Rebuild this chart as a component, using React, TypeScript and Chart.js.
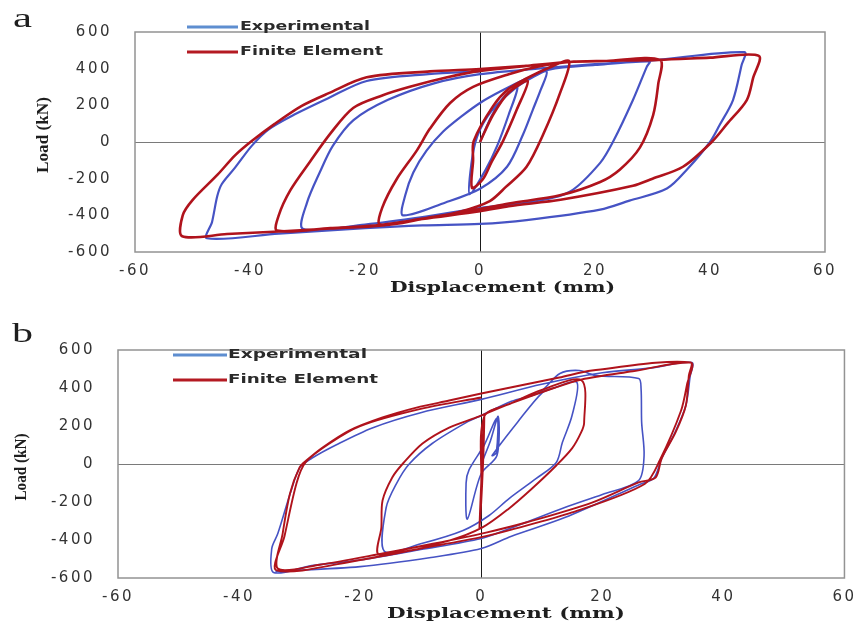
import React, { useEffect, useRef } from 'react';
import { Chart, registerables } from 'chart.js';

Chart.register(...registerables);

// ---------- text ----------
const seriesNames = ['Experimental', 'Finite Element'];
const panelLetters = ['a', 'b'];
const xTitle = 'Displacement (mm)';
const yTitle = 'Load (kN)';
const xTickValues = [-60, -40, -20, 0, 20, 40, 60];
const yTickValues = [-600, -400, -200, 0, 200, 400, 600];

// ---------- panel a : experimental ----------
const aExpX = [0, 2, 4, 6.5, 5, 3, 1, -1.8, -1.5, -0.5, 2, 6, 9, 11.6,
  10.5, 9.2, 7.5, 4.7, 0, -6, -13.4, -13, -11.6, -9.3, -6.4, -3, 0, 3.5, 8, 12, 20, 29.5,
  29, 26.6, 23.2, 20.9, 15.7, 9.9, 0, -10, -20, -30.8, -30.1, -27.8, -25.6, -22, -16, -8, 0, 10, 20, 30, 46,
  45.5, 44, 41.7, 40, 36, 32.5, 26, 20.9, 8.1, 0, -10, -20, -35, -47.5, -46.6, -45.7, -44.9, -42.6, -39.7, -36.8, -32.2, -26.4, -19.7, -9, 0];
const aExpY = [0, 140, 240, 300, 150, -20, -150, -285, -120, 30, 170, 290, 350, 384,
  280, 177, 42, -135, -255, -330, -400, -291, -166, -47, 57, 145, 213, 275, 345, 395, 420, 440,
  410, 229, 5, -114, -270, -322, -360, -410, -450, -473, -332, -161, -21, 119, 230, 320, 370, 400, 425, 445, 490,
  420, 229, 94, 0, -150, -254, -320, -369, -426, -447, -455, -470, -500, -525, -436, -296, -229, -140, -21, 68, 151, 239, 333, 370, 385];

// ---------- panel a : finite element ----------
const aFeX = [0, 2.3, 5, 8.3, 6.4, 4, 2, 0.5, -1.4, -1.2, -1.1, 2.3, 5, 8, 12, 15.5,
  13.9, 11, 8.1, 4.5, 1.7, -3.5, -10, -17.4, -17, -14.5, -11, -8.7, -5.2, -1.2, 5, 10, 15.5, 22, 31.3,
  31, 30.1, 27.8, 24.3, 20.9, 13.9, 5, 0, -8, -17, -26, -35.3, -35, -33, -29.6, -26, -22, -16.9, -12.2, -5.7, 0, 8, 16, 31, 40, 48.5,
  47.5, 46.4, 43, 40.3, 35.3, 30, 26.6, 14, 5, 0, -10, -17, -26, -35, -44, -51.8, -51.7, -50, -45.6, -42.6, -39.7, -35.7, -31, -26.4, -19.7, -8.7, 0, 10];
const aFeY = [0, 150, 270, 332, 177, 5, -110, -203, -250, -100, 5, 197, 290, 345, 405, 440,
  265, 42, -135, -245, -322, -380, -420, -450, -358, -203, -47, 73, 213, 301, 370, 410, 436, 442, 448,
  317, 145, -31, -151, -218, -291, -335, -365, -408, -452, -470, -483, -400, -264, -109, 47, 187, 255, 301, 353, 388, 415, 438, 448, 460, 470,
  350, 229, 100, 0, -135, -200, -239, -315, -350, -378, -420, -455, -472, -488, -502, -514, -400, -317, -177, -73, 5, 99, 197, 265, 353, 385, 398, 420];

// ---------- panel b : experimental ----------
const bExpX = [0, 1.5, 2.8, 2.6, 0, -2.3, -2.5, -2, 0.5, 2.6, 2.5, 1.8, 6, 10.1, 12, 15.8,
  15, 13.4, 12.4, 9.1, 4.6, 1.3, -3, -10, -16, -15.7, -14, -11.9, -8.1, -2.5, 0, 5, 9.6, 13, 16.2, 19, 26,
  26.4, 26.5, 26.9, 26, 20, 13.8, 5.5, 0, -10, -20, -28, -34.3, -34.6, -33.6, -31.5, -30, -28, -24, -18, -10, 0, 10, 20, 28, 34.8,
  34.5, 33.8, 32, 29.8, 28.5, 26, 13.8, 5, 0, -8.3, -20, -34];
const bExpY = [0, 120, 250, 45, -50, -290, -100, -30, 100, 240, 60, 45, 220, 376, 400, 430,
  255, 113, 8, -76, -182, -271, -350, -420, -460, -229, -103, 0, 108, 218, 255, 330, 376, 476, 492, 465, 450,
  398, 219, 45, -87, -160, -229, -330, -392, -450, -505, -535, -571, -445, -366, -150, -20, 30, 100, 190, 270, 340, 420, 480, 505, 534,
  460, 308, 166, 29, -75, -110, -282, -380, -445, -492, -540, -565];

// ---------- panel b : finite element ----------
const bFeX = [0, 0.5, 0.3, -0.3, 0, 0.5, 5, 10, 16.6,
  17, 16.5, 15, 12.4, 8.4, 4.6, 0.2, -5.3, -12, -17, -16.5, -16.3, -14.7, -13, -9.7, -5.3, -0.8, 5, 12, 16.6, 25, 34.6,
  34.3, 33.8, 32.1, 29.8, 28.8, 26, 18.3, 7.4, 0.8, -8, -16.3, -26.7, -33.6, -32.8, -31.6, -30, -28.9, -26.2, -21.8, -16.3, -10.7, -5.3, 0, 12.9, 18.3, 34.6,
  34, 33, 29.5, 27, 15, 5, 0, -10, -20, -33.8, -32.5, -30.5, -29, -25, -20, -10, 0];
const bFeY = [0, 260, 0, -340, -100, 250, 320, 390, 440,
  219, 166, 82, -8, -129, -234, -334, -403, -445, -475, -334, -192, -71, 0, 108, 192, 245, 320, 400, 445, 488, 534,
  466, 308, 166, 29, -71, -97, -203, -308, -361, -420, -471, -530, -550, -366, -156, -18, 18, 87, 176, 245, 297, 334, 371, 455, 492, 534,
  420, 280, 20, -105, -255, -345, -385, -445, -505, -560, -380, -100, 10, 110, 200, 290, 350];

const zip = (xs: number[], ys: number[]) => xs.map((x, i) => ({ x, y: ys[i] }));

const EXP_COLOR = '#4653c4';
const FE_COLOR = '#b0131c';
const EXP_LEGEND = '#5e8ed0';
const FE_LEGEND = '#b41a22';

type Layout = {
  w: number; h: number;
  area: { l: number; r: number; t: number; b: number };
  letter: { x0: number; x1: number; base: number };
  yT: { cx: number; cy: number; len: number };
  xT: { x0: number; x1: number; cy: number };
  leg: { x0: number; x1: number; tx: number; y1: number; y2: number; e1: number; e2: number };
  yPad: number; xPad: number;
  lw: [number, number];
};

const layoutA: Layout = {
  w: 864, h: 314,
  area: { l: 135, r: 825, t: 21, b: 252 },
  letter: { x0: 13, x1: 32, base: 27 },
  yT: { cx: 44, cy: 135, len: 76 },
  xT: { x0: 390, x1: 615, cy: 288 },
  leg: { x0: 187, x1: 238, tx: 240, y1: 27, y2: 52, e1: 370, e2: 383 },
  yPad: 23, xPad: 10,
  lw: [2.2, 2.6],
};

const layoutB: Layout = {
  w: 864, h: 314,
  area: { l: 118, r: 846, t: 36, b: 264 },
  letter: { x0: 12, x1: 33, base: 28 },
  yT: { cx: 22, cy: 153, len: 67 },
  xT: { x0: 387, x1: 625, cy: 300 },
  leg: { x0: 173, x1: 227, tx: 228, y1: 41, y2: 66, e1: 367, e2: 378 },
  yPad: 23, xPad: 10,
  lw: [1.6, 1.9],
};

function fitText(ctx: CanvasRenderingContext2D, text: string, x: number, y: number, width: number) {
  const m = ctx.measureText(text).width;
  ctx.save();
  ctx.translate(x, y);
  ctx.scale(width / m, 1);
  ctx.textAlign = 'left';
  ctx.fillText(text, 0, 0);
  ctx.restore();
}

function makeDecor(L: Layout, letter: string) {
  return {
    id: 'decor',
    beforeDraw(chart: any) {
      (chart.ctx as any).letterSpacing = '2.5px';
    },
    beforeDatasetsDraw(chart: any) {
      const ctx = chart.ctx as CanvasRenderingContext2D;
      (ctx as any).letterSpacing = '0px';
      const a = chart.chartArea;
      ctx.save();
      ctx.strokeStyle = '#939393';
      ctx.lineWidth = 1.5;
      ctx.strokeRect(a.left, a.top, a.right - a.left, a.bottom - a.top);
      ctx.restore();
    },
    afterDraw(chart: any) {
      const ctx = chart.ctx as CanvasRenderingContext2D;
      (ctx as any).letterSpacing = '0px';
      ctx.save();
      ctx.fillStyle = '#1e1e1e';
      // panel letter
      ctx.font = '28px "Liberation Serif"';
      ctx.textBaseline = 'alphabetic';
      fitText(ctx, letter, L.letter.x0, L.letter.base, L.letter.x1 - L.letter.x0);
      // y title
      ctx.save();
      ctx.translate(L.yT.cx, L.yT.cy);
      ctx.rotate(-Math.PI / 2);
      ctx.font = 'bold 16px "Liberation Serif"';
      ctx.textBaseline = 'middle';
      fitText(ctx, yTitle, -L.yT.len / 2, 0, L.yT.len);
      ctx.restore();
      // x title
      ctx.font = 'bold 15px "DejaVu Serif"';
      ctx.textBaseline = 'middle';
      fitText(ctx, xTitle, L.xT.x0, L.xT.cy, L.xT.x1 - L.xT.x0);
      // legend
      ctx.lineWidth = 3;
      ctx.strokeStyle = EXP_LEGEND;
      ctx.beginPath(); ctx.moveTo(L.leg.x0, L.leg.y1); ctx.lineTo(L.leg.x1, L.leg.y1); ctx.stroke();
      ctx.strokeStyle = FE_LEGEND;
      ctx.beginPath(); ctx.moveTo(L.leg.x0, L.leg.y2); ctx.lineTo(L.leg.x1, L.leg.y2); ctx.stroke();
      ctx.font = 'bold 12px "DejaVu Sans"';
      ctx.fillStyle = '#2a2a2a';
      ctx.textBaseline = 'middle';
      fitText(ctx, seriesNames[0], L.leg.tx, L.leg.y1, L.leg.e1 - L.leg.tx);
      fitText(ctx, seriesNames[1], L.leg.tx, L.leg.y2, L.leg.e2 - L.leg.tx);
      ctx.restore();
    },
  };
}

function makeConfig(L: Layout, letter: string, exp: { x: number; y: number }[], fe: { x: number; y: number }[]): any {
  const tickFont = { family: '"DejaVu Sans"', size: 15 };
  return {
    type: 'scatter',
    data: {
      datasets: [
        { label: seriesNames[0], data: exp, showLine: true, borderColor: EXP_COLOR, backgroundColor: EXP_COLOR, borderWidth: L.lw[0], pointRadius: 0, order: 1, tension: 0.3 },
        { label: seriesNames[1], data: fe, showLine: true, borderColor: FE_COLOR, backgroundColor: FE_COLOR, borderWidth: L.lw[1], pointRadius: 0, order: 0, tension: 0.3 },
      ],
    },
    options: {
      animation: false,
      responsive: false,
      maintainAspectRatio: false,
      layout: { padding: { left: 0, top: L.area.t, right: L.w - L.area.r, bottom: 0 } },
      plugins: { legend: { display: false }, tooltip: { enabled: false } },
      scales: {
        x: {
          type: 'linear', min: -60, max: 60,
          afterBuildTicks: (s: any) => { s.ticks = xTickValues.map((v) => ({ value: v })); },
          afterFit: (s: any) => { s.height = L.h - L.area.b; },
          ticks: { font: tickFont, color: '#333333', padding: L.xPad, maxRotation: 0, autoSkip: false },
          grid: { drawTicks: false, lineWidth: 1, color: (c: any) => (c.tick && c.tick.value === 0 ? '#1a1a1a' : 'rgba(0,0,0,0)') },
          border: { display: false },
        },
        y: {
          type: 'linear', min: -600, max: 600,
          afterBuildTicks: (s: any) => { s.ticks = yTickValues.map((v) => ({ value: v })); },
          afterFit: (s: any) => { s.width = L.area.l; },
          ticks: { font: tickFont, color: '#333333', padding: L.yPad, autoSkip: false },
          grid: { drawTicks: false, lineWidth: 1, color: (c: any) => (c.tick && c.tick.value === 0 ? '#7a7a7a' : 'rgba(0,0,0,0)') },
          border: { display: false },
        },
      },
    },
    plugins: [makeDecor(L, letter)],
  };
}

function Panel({ L, letter, exp, fe, top }: { L: Layout; letter: string; exp: any[]; fe: any[]; top: number }) {
  const ref = useRef<HTMLCanvasElement | null>(null);
  useEffect(() => {
    if (!ref.current) return;
    const chart = new Chart(ref.current, makeConfig(L, letter, exp, fe));
    return () => chart.destroy();
  }, []);
  return (
    <canvas
      ref={ref}
      width={L.w}
      height={L.h}
      style={{ position: 'absolute', left: 0, top, width: L.w, height: L.h, display: 'block' }}
    />
  );
}

export default function App() {
  return (
    <div style={{ position: 'absolute', left: 0, top: 0, width: 864, height: 628, background: '#ffffff', overflow: 'hidden' }}>
      <Panel L={layoutA} letter={panelLetters[0]} exp={zip(aExpX, aExpY)} fe={zip(aFeX, aFeY)} top={0} />
      <Panel L={layoutB} letter={panelLetters[1]} exp={zip(bExpX, bExpY)} fe={zip(bFeX, bFeY)} top={314} />
    </div>
  );
}
